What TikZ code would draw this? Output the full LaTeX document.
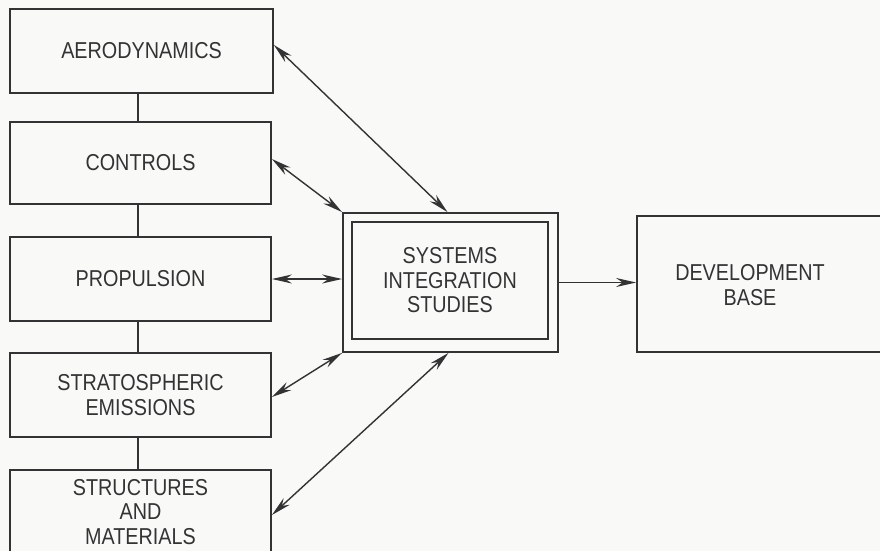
\documentclass[tikz,border=0pt]{standalone}
\usepackage{fontspec}
\setmainfont{Liberation Sans}[FakeStretch=0.86]
\usetikzlibrary{arrows.meta}
\definecolor{ink}{HTML}{333333}
\definecolor{paper}{HTML}{F9F9F8}
\begin{document}
\begin{tikzpicture}[x=1pt,y=-1pt,
  every node/.style={font=\fontsize{23}{24.5}\selectfont, text=ink, align=center},
  box/.style={draw=ink, line width=1.8pt, rectangle, inner sep=0pt},
  link/.style={draw=ink, line width=1.4pt},
  biarrow/.style={link, {Stealth[length=20pt,width=9pt]}-{Stealth[length=20pt,width=9pt]}},
  onearrow/.style={link, -{Stealth[length=20pt,width=9pt]}}]
\fill[paper] (0,0) rectangle (880,551);
\useasboundingbox (0,0) rectangle (880,551);
\clip (0,0) rectangle (880,551);

\node[box, minimum width=263pt, minimum height=84pt] (aero) at (141.5,51) {AERODYNAMICS};
\node[box, minimum width=261pt, minimum height=82pt] (ctrl) at (140.5,163) {CONTROLS};
\node[box, minimum width=261pt, minimum height=84pt] (prop) at (140.5,279) {PROPULSION};
\node[box, minimum width=261pt, minimum height=84pt] (strat) at (140.5,395) {STRATOSPHERIC\\EMISSIONS};
\node[box, minimum width=261pt, minimum height=82pt] (struct) at (140.5,511) {};
\node (structt) at (140.5,512) {STRUCTURES\\AND\\MATERIALS};

\node[box, minimum width=215pt, minimum height=139pt] (si) at (450.5,282.5) {};
\node[box, minimum width=196pt, minimum height=117pt] (sii) at (450,280.5) {SYSTEMS\\INTEGRATION\\STUDIES};

\node[box, minimum width=250pt, minimum height=136pt] (db) at (762,284) {};
\node (dbt) at (750,285) {DEVELOPMENT\\BASE};

% vertical links
\draw[link] ([xshift=-3.5pt]aero.south) -- ([xshift=-3.5pt]aero.south |- ctrl.north);
\draw[link] ([xshift=-2.5pt]ctrl.south) -- ([xshift=-2.5pt]ctrl.south |- prop.north);
\draw[link] ([xshift=-2.5pt]prop.south) -- ([xshift=-2.5pt]prop.south |- strat.north);
\draw[link] ([xshift=-2.5pt]strat.south) -- ([xshift=-2.5pt]strat.south |- struct.north);

% arrows to systems integration
\draw[biarrow] ([yshift=6pt]aero.east) -- ([xshift=-3pt]si.north);
\draw[biarrow] ([yshift=4pt]ctrl.east) -- (si.north west);
\draw[biarrow] (prop.east) -- (si.west |- prop.east);
\draw[biarrow] ([yshift=-2pt]strat.east) -- (si.south west);
\draw[biarrow] ([yshift=-4pt]struct.east) -- ([xshift=-2pt]si.south);

\draw[onearrow] (si.east) -- (si.east -| db.west);
\end{tikzpicture}
\end{document}
